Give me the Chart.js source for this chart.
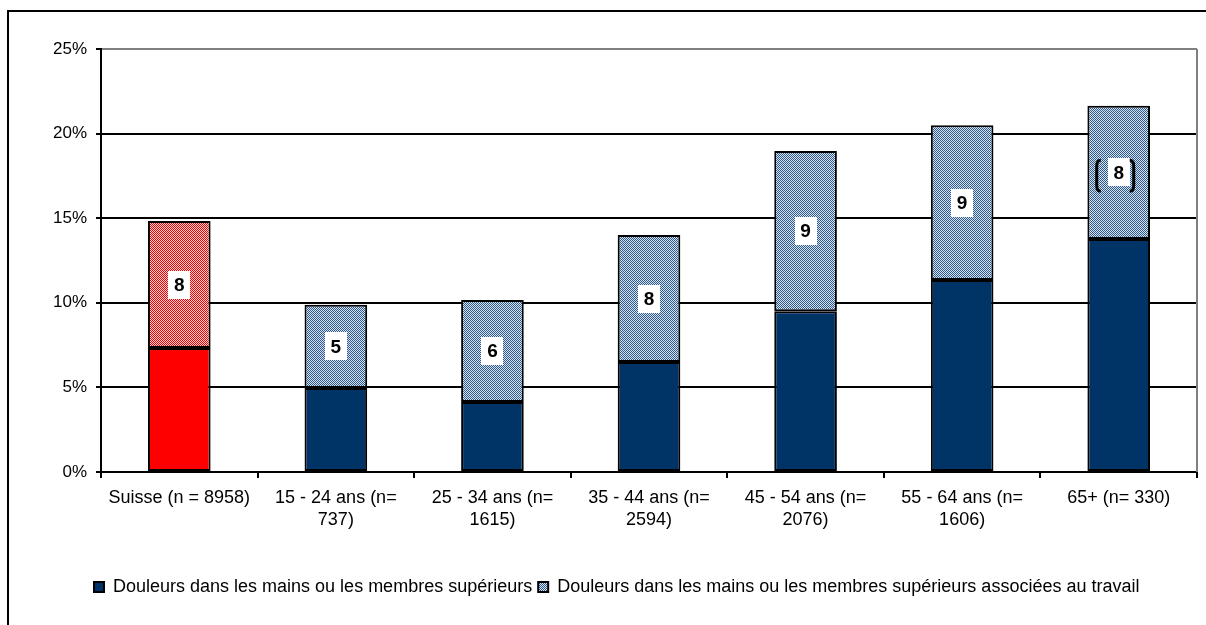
<!DOCTYPE html>
<html><head><meta charset="utf-8">
<script src="https://cdn.jsdelivr.net/npm/chart.js@4.4.1/dist/chart.umd.min.js"></script>
<style>html,body{margin:0;padding:0;background:#fff;overflow:hidden}</style>
</head><body>
<canvas id="c" width="1206" height="625"></canvas>
<script>
const categories = [
  ['Suisse (n = 8958)'],
  ['15 - 24 ans (n=', '737)'],
  ['25 - 34 ans (n=', '1615)'],
  ['35 - 44 ans (n=', '2594)'],
  ['45 - 54 ans (n=', '2076)'],
  ['55 - 64 ans (n=', '1606)'],
  ['65+ (n= 330)']
];
const seriesNames = [
  'Douleurs dans les mains ou les membres supérieurs',
  'Douleurs dans les mains ou les membres supérieurs associées au travail'
];
const painValues = [7.33, 4.96, 4.14, 6.5, 9.5, 11.35, 13.77];
const workPainValues = [7.5, 4.93, 6.03, 7.5, 9.47, 9.15, 7.88];
const workPainLabels = ['8', '5', '6', '8', '9', '9', '8'];
const bracketed = [false, false, false, false, false, false, true];
const yTickMax = 25;
const yTickStep = 5;

const FONT = '"Liberation Sans", Arial, sans-serif';

function makePattern(c1, c2) {
  const p = document.createElement('canvas');
  p.width = 4; p.height = 4;
  const g = p.getContext('2d');
  for (let y = 0; y < 4; y++) for (let x = 0; x < 4; x++) {
    g.fillStyle = ((x + y) % 2 === 0) ? c1 : c2;
    g.fillRect(x, y, 1, 1);
  }
  return g.createPattern(p, 'repeat');
}
const bluePattern = makePattern('#2d5a8a', '#d8e2ee');
const redPattern = makePattern('#f00000', '#ffd6d6');

const outerBorder = {
  id: 'outerBorder',
  afterLayout(chart) {
    const lg = chart.legend;
    if (lg) { lg.left += 88; lg.right += 88; }
  },
  beforeDraw(chart) {
    const c = chart.ctx;
    c.save();
    c.fillStyle = '#fff';
    c.fillRect(0, 0, chart.width, chart.height);
    c.strokeStyle = '#000';
    c.lineWidth = 2;
    c.strokeRect(8, 11, 1400, 900);
    c.restore();
  },
  beforeDatasetsDraw(chart) {
    const a = chart.chartArea, c = chart.ctx;
    c.save();
    c.strokeStyle = '#808080';
    c.lineWidth = 2;
    c.beginPath();
    c.moveTo(a.right, a.top);
    c.lineTo(a.right, a.bottom);
    c.stroke();
    c.restore();
  }
};

const segLabels = {
  id: 'segLabels',
  afterDatasetsDraw(chart) {
    const meta = chart.getDatasetMeta(1);
    const c = chart.ctx;
    c.save();
    meta.data.forEach((el, i) => {
      const cx = el.x, cy = (el.y + el.base) / 2;
      c.fillStyle = '#fff';
      c.fillRect(Math.round(cx - 11), Math.round(cy - 14), 22, 28);
      c.fillStyle = '#000';
      c.font = 'bold 19px ' + FONT;
      c.textAlign = 'center';
      c.textBaseline = 'middle';
      c.fillText(workPainLabels[i], cx, cy + 1);
      if (bracketed[i]) {
        c.strokeStyle = '#000';
        c.lineWidth = 3;
        const top = cy - 12, bot = cy + 19;
        let x = cx - 22;
        c.beginPath();
        c.moveTo(x + 4, top);
        c.quadraticCurveTo(x, top, x, top + 6);
        c.lineTo(x, bot - 6);
        c.quadraticCurveTo(x, bot, x + 4, bot);
        c.stroke();
        x = cx + 15;
        c.beginPath();
        c.moveTo(x - 4, top);
        c.quadraticCurveTo(x, top, x, top + 6);
        c.lineTo(x, bot - 6);
        c.quadraticCurveTo(x, bot, x - 4, bot);
        c.stroke();
      }
    });
    c.restore();
  }
};

new Chart(document.getElementById('c'), {
  type: 'bar',
  data: {
    labels: categories,
    datasets: [
      {
        label: seriesNames[0],
        data: painValues,
        backgroundColor: ctx => ctx.dataIndex === 0 ? '#ff0000' : '#003366',
        borderColor: '#000',
        borderWidth: 2,
        borderSkipped: false
      },
      {
        label: seriesNames[1],
        data: workPainValues,
        backgroundColor: ctx => ctx.dataIndex === 0 ? redPattern : bluePattern,
        borderColor: '#000',
        borderWidth: 2,
        borderSkipped: false
      }
    ]
  },
  options: {
    responsive: false,
    animation: false,
    events: [],
    barPercentage: 0.4,
    categoryPercentage: 1,
    layout: { padding: { top: 49, right: 9, left: 0, bottom: 19 } },
    plugins: {
      tooltip: { enabled: false },
      legend: {
        position: 'bottom',
        align: 'start',
        labels: {
          color: '#000',
          font: { family: FONT, size: 18 },
          boxWidth: 10,
          boxHeight: 10,
          padding: 6,
          generateLabels(chart) {
            const items = Chart.defaults.plugins.legend.labels.generateLabels(chart);
            items[0].fillStyle = '#003366';
            items[1].fillStyle = bluePattern;
            return items;
          }
        }
      }
    },
    scales: {
      x: {
        stacked: true,
        afterFit(s) { s.height = 100; },
        grid: {
          display: true, drawOnChartArea: false, drawTicks: true,
          tickLength: 6, color: '#000', lineWidth: 2, offset: true
        },
        border: { display: true, color: '#000', width: 2 },
        ticks: {
          color: '#000', font: { family: FONT, size: 18, lineHeight: 1.22 },
          padding: 9, maxRotation: 0, autoSkip: false
        }
      },
      y: {
        stacked: true,
        min: 0, max: yTickMax,
        afterFit(s) { s.width = 101; },
        grid: {
          color: ctx => (ctx.tick && ctx.tick.value === yTickMax) ? '#808080' : '#000',
          tickColor: '#000',
          lineWidth: 2, drawTicks: true, tickLength: 5
        },
        border: { display: true, color: '#000', width: 2 },
        ticks: {
          stepSize: yTickStep,
          color: '#000', font: { family: FONT, size: 17 },
          padding: 9,
          callback: v => v + '%'
        }
      }
    }
  },
  plugins: [outerBorder, segLabels]
});
</script>
</body></html>
